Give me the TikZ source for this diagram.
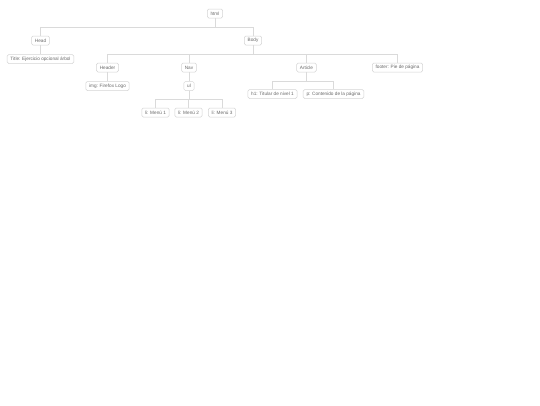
\documentclass[tikz,border=0pt]{standalone}
\usepackage{fontspec}
\setmainfont{Liberation Sans}
\begin{document}
\begin{tikzpicture}[x=1pt,y=-1pt,
  box/.style={draw=boxc, line width=0.5pt, rounded corners=1.5pt, fill=white,
    text=textc, font=\fontsize{4.7}{5.5}\selectfont, inner xsep=3.3pt, inner ysep=0pt,
    minimum height=9pt, anchor=center},
  link/.style={draw=linec, line width=0.5pt}]
\definecolor{boxc}{HTML}{D4D4D4}
\definecolor{linec}{HTML}{DADADA}
\definecolor{textc}{HTML}{6A6A6A}
\useasboundingbox[fill=white] (0,0) rectangle (540,405);
\node[box] (html) at (215,13.5) {html};
\node[box] (head) at (40.5,40.5) {Head};
\node[box] (body) at (253,40.5) {Body};
\node[box] (title) at (40.5,59) {Title: Ejercicio opcional árbol};
\node[box] (header) at (107.5,67.5) {Header};
\node[box] (nav) at (189,67.5) {Nav};
\node[box] (article) at (306.5,67.5) {Article};
\node[box] (footer) at (397.5,67.5) {footer: Pie de página};
\node[box] (img) at (107.5,86) {img: Firefox Logo};
\node[box] (ul) at (189,86) {ul};
\node[box] (h1) at (272.5,94) {h1: Titular de nivel 1};
\node[box] (p) at (333.5,94) {p: Contenido de la página};
\node[box] (li1) at (155.5,112.5) {li: Menú 1};
\node[box] (li2) at (188.5,112.5) {li: Menú 2};
\node[box] (li3) at (222,112.5) {li: Menú 3};
\coordinate (b1) at (215,27);
\coordinate (b2) at (253,54);
\coordinate (b3) at (189,99);
\coordinate (b4) at (306.5,81);
\begin{scope}[on background layer/.try]
\draw[link] (html.south) -- (b1) -| (head.north);
\draw[link] (b1) -| (body.north);
\draw[link] (head.south) -- (title.north);
\draw[link] (body.south) -- (b2) -| (header.north);
\draw[link] (b2) -| (nav.north);
\draw[link] (b2) -| (article.north);
\draw[link] (b2) -| (footer.north);
\draw[link] (header.south) -- (img.north);
\draw[link] (nav.south) -- (ul.north);
\draw[link] (ul.south) -- (b3) -| (li1.north);
\draw[link] (b3) -| (li2.north);
\draw[link] (b3) -| (li3.north);
\draw[link] (article.south) -- (b4) -| (h1.north);
\draw[link] (b4) -| (p.north);
\end{scope}
\end{tikzpicture}
\end{document}
